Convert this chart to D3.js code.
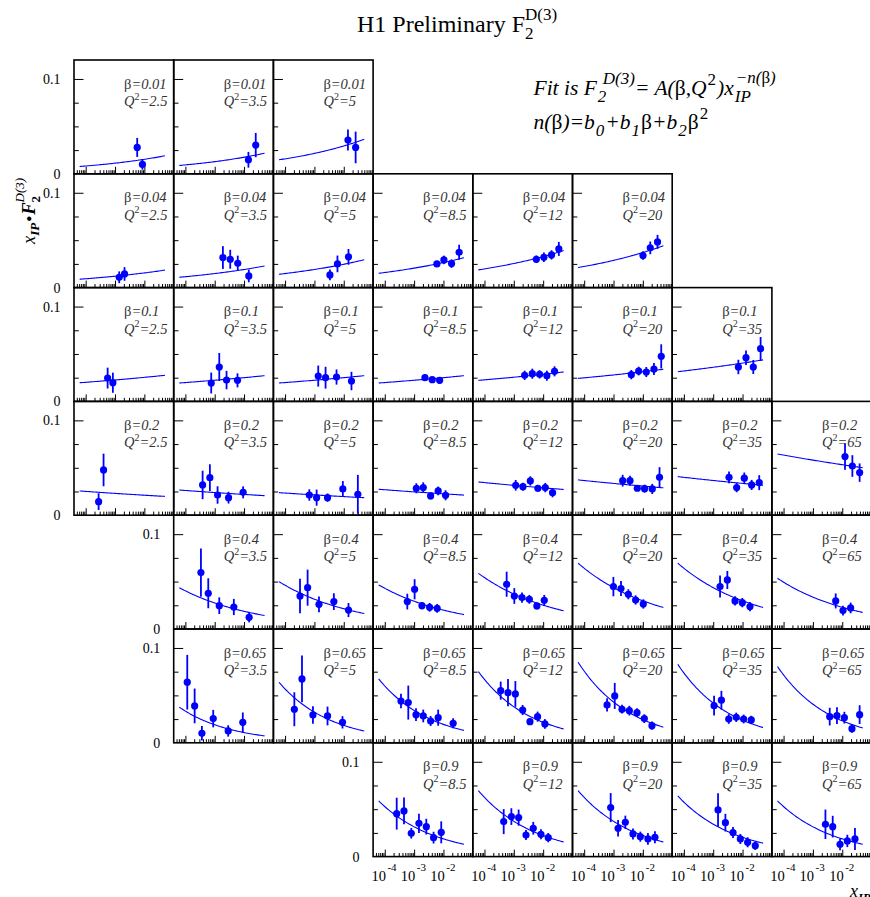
<!DOCTYPE html>
<html><head><meta charset="utf-8">
<script src="https://cdn.jsdelivr.net/npm/d3@7"></script>
<style>
html,body{margin:0;padding:0;background:#fff;}
svg{display:block;}
text{font-family:"Liberation Serif","Times New Roman",Times,serif;}
</style></head><body>
<svg id="c" width="870" height="897"></svg>
<script>
// ---------------- data ----------------
const betas = [0.01, 0.04, 0.1, 0.2, 0.4, 0.65, 0.9];
const q2s = [2.5, 3.5, 5, 8.5, 12, 20, 35, 65];
const q2Labels = ["2.5", "3.5", "5", "8.5", "12", "20", "35", "65"];
const betaLabels = ["0.01", "0.04", "0.1", "0.2", "0.4", "0.65", "0.9"];
// Q2 columns present in each beta row
const panelCols = [
  [0, 1, 2],
  [0, 1, 2, 3, 4, 5],
  [0, 1, 2, 3, 4, 5, 6],
  [0, 1, 2, 3, 4, 5, 6, 7],
  [1, 2, 3, 4, 5, 6, 7],
  [1, 2, 3, 4, 5, 6, 7],
  [3, 4, 5, 6, 7]
];
// fit: x_IP*F2 = A * x_IP^(1-n(beta)); exponent 1-n(beta) per beta row
const fitPower = [0.135, 0.11, 0.05, -0.038, -0.167, -0.245, -0.225];
// fitted x_IP*F2 value at x_IP = 1e-3, per panel (row-major)
const fitAt1e3 = [
  0.0112, 0.0128, 0.0215,
  0.0120, 0.0148, 0.0191, 0.0205, 0.0254, 0.0287,
  0.0226, 0.0223, 0.0223, 0.0223, 0.0255, 0.0279, 0.0360,
  0.0230, 0.0239, 0.0214, 0.0246, 0.0315, 0.0335, 0.0366, 0.0581,
  0.0274, 0.0314, 0.0292, 0.0369, 0.0436, 0.0436, 0.0336,
  0.0190, 0.0323, 0.0341, 0.0380, 0.0430, 0.0419, 0.0407,
  0.0314, 0.0372, 0.0372, 0.0342, 0.0314
];
const fitXRange = [6.2e-5, 0.05];
// data points per panel (row-major): x_IP, x_IP*F2, error
const ptX = [
  [5.7e-3, 8.6e-3], [0.0141, 0.025], [0.0139, 0.0254],
  [1.39e-3, 2.11e-3], [1.9e-3, 3.38e-3, 6.1e-3, 0.0145], [3.38e-3, 6.1e-3, 0.0145],
  [5.98e-3, 0.01035, 0.0189, 0.0342], [5.84e-3, 0.0106, 0.0193, 0.0342], [0.0101, 0.0179, 0.0316],
  [5.6e-4, 8.45e-4], [7.6e-4, 1.43e-3, 2.53e-3, 5.98e-3], [1.35e-3, 2.4e-3, 5.67e-3, 0.0183],
  [2.34e-3, 4.14e-3, 7.4e-3], [2.34e-3, 4.26e-3, 7.57e-3, 0.0134, 0.0244],
  [4.04e-3, 7.2e-3, 0.0131, 0.0239, 0.0423], [7.2e-3, 0.0131, 0.0232, 0.0412],
  [2.76e-4, 4.07e-4], [3.87e-4, 6.84e-4, 1.25e-3, 2.96e-3, 9.3e-3], [6.7e-4, 1.19e-3, 2.8e-3, 9.3e-3, 0.0302],
  [1.19e-3, 2.05e-3, 3.65e-3, 6.6e-3, 0.0118], [1.16e-3, 2.05e-3, 3.65e-3, 6.6e-3, 0.0118, 0.0209],
  [2.05e-3, 3.65e-3, 6.46e-3, 0.01146, 0.0209, 0.037], [3.46e-3, 6.3e-3, 0.01146, 0.0204, 0.037],
  [0.0124, 0.0221, 0.0391],
  [3.39e-4, 6.03e-4, 1.43e-3, 4.48e-3, 0.0149], [3.23e-4, 5.86e-4, 1.43e-3, 4.6e-3, 0.0145],
  [5.86e-4, 1.04e-3, 1.85e-3, 3.38e-3, 6.1e-3], [5.7e-4, 1.04e-3, 1.9e-3, 3.38e-3, 6.1e-3, 0.0109],
  [9.9e-4, 1.8e-3, 3.2e-3, 5.67e-3, 0.01035], [1.71e-3, 3.03e-3, 5.54e-3, 9.8e-3, 0.0179],
  [5.98e-3, 0.0106, 0.0193],
  [1.16e-4, 2.07e-4, 3.66e-4, 8.9e-4, 2.88e-3, 9.06e-3], [2.07e-4, 3.77e-4, 8.9e-4, 2.8e-3, 9.06e-3],
  [3.57e-4, 6.33e-4, 1.16e-3, 2.05e-3, 3.65e-3, 6.6e-3, 0.0214],
  [3.57e-4, 6.33e-4, 1.13e-3, 2e-3, 3.55e-3, 6.46e-3, 0.01146],
  [6.03e-4, 1.1e-3, 1.95e-3, 3.46e-3, 6.3e-3, 0.0112, 0.0204],
  [1.07e-3, 1.9e-3, 3.38e-3, 6.1e-3, 0.0109, 0.0198], [3.74e-3, 6.6e-3, 0.0118, 0.0214, 0.0391],
  [2.55e-4, 4.52e-4, 8e-4, 1.46e-3, 2.6e-3, 4.6e-3, 8.4e-3],
  [4.52e-4, 8.25e-4, 1.46e-3, 2.6e-3, 4.6e-3, 8.4e-3, 0.0149],
  [8e-4, 1.43e-3, 2.53e-3, 4.6e-3, 8.2e-3, 0.0149, 0.0258],
  [1.46e-3, 2.6e-3, 4.73e-3, 8.4e-3, 0.0149, 0.0271], [2.67e-3, 4.73e-3, 8.4e-3, 0.0149, 0.0271]
];
const ptY = [
  [0.0278, 0.0099], [0.0148, 0.0303], [0.0356, 0.0278],
  [0.0109, 0.0144], [0.0317, 0.0299, 0.0257, 0.0123], [0.0134, 0.025, 0.0324],
  [0.025, 0.0292, 0.0253, 0.0373], [0.0299, 0.032, 0.0345, 0.0408], [0.0338, 0.0419, 0.0482],
  [0.0246, 0.0197], [0.0194, 0.0363, 0.0225, 0.0222], [0.0267, 0.025, 0.0257, 0.0215],
  [0.025, 0.0229, 0.0222], [0.0275, 0.0292, 0.0285, 0.0271, 0.0317],
  [0.0282, 0.032, 0.031, 0.0341, 0.0475], [0.0363, 0.0461, 0.0363, 0.0556],
  [0.0143, 0.0477], [0.0319, 0.0396, 0.0213, 0.0185, 0.0241], [0.0213, 0.0185, 0.0185, 0.0277, 0.0221],
  [0.0284, 0.0291, 0.0203, 0.0256, 0.021], [0.0315, 0.0301, 0.0361, 0.0284, 0.0291, 0.0238],
  [0.0364, 0.0364, 0.0284, 0.028, 0.0277, 0.04], [0.04, 0.0291, 0.039, 0.0319, 0.0343],
  [0.0618, 0.0519, 0.0449],
  [0.0595, 0.0377, 0.0246, 0.0232, 0.0123], [0.0348, 0.0436, 0.026, 0.0289, 0.02],
  [0.0289, 0.0419, 0.0246, 0.0229, 0.0218], [0.0472, 0.0348, 0.0331, 0.0313, 0.0243, 0.0303],
  [0.0447, 0.0426, 0.0366, 0.0306, 0.0264], [0.0447, 0.0517, 0.0296, 0.0278, 0.0236],
  [0.0296, 0.0194, 0.0222],
  [0.0639, 0.0389, 0.01, 0.0255, 0.0125, 0.0216], [0.0354, 0.0674, 0.0294, 0.0283, 0.0216],
  [0.0441, 0.0424, 0.0297, 0.0283, 0.023, 0.0265, 0.0206],
  [0.055, 0.0529, 0.0515, 0.0346, 0.0223, 0.0276, 0.0199],
  [0.0399, 0.0494, 0.0354, 0.0339, 0.0318, 0.0255, 0.0181],
  [0.0392, 0.0449, 0.0251, 0.0269, 0.0251, 0.0241], [0.0276, 0.0286, 0.0265, 0.0149, 0.0297],
  [0.0453, 0.0482, 0.0246, 0.0351, 0.0316, 0.02, 0.0256],
  [0.0369, 0.0422, 0.0411, 0.0228, 0.0299, 0.0235, 0.02],
  [0.0517, 0.0299, 0.0362, 0.0239, 0.021, 0.0186, 0.0204],
  [0.0492, 0.0358, 0.0253, 0.0186, 0.0151, 0.0115], [0.0341, 0.0316, 0.013, 0.0165, 0.0186]
];
const ptErr = [
  [0.010, 0.0056], [0.0083, 0.0128], [0.011, 0.0167],
  [0.0062, 0.0072], [0.012, 0.010, 0.008, 0.0067], [0.0056, 0.0088, 0.0083],
  [0.003, 0.0045, 0.0045, 0.0079], [0.004, 0.005, 0.0049, 0.0074], [0.0044, 0.0067, 0.0074],
  [0.011, 0.0106], [0.011, 0.0148, 0.0097, 0.0074], [0.0111, 0.0115, 0.008, 0.0097],
  [0.0035, 0.003, 0.0035], [0.0049, 0.0053, 0.0044, 0.0053, 0.0053],
  [0.0049, 0.0046, 0.0053, 0.0063, 0.0127], [0.0076, 0.0076, 0.0074, 0.0123],
  [0.0088, 0.0172], [0.015, 0.0141, 0.0092, 0.0062, 0.0063], [0.006, 0.0085, 0.0044, 0.0083, 0.0204],
  [0.0053, 0.0056, 0.0035, 0.0046, 0.0053], [0.0056, 0.0042, 0.0049, 0.0035, 0.0049, 0.0049],
  [0.0062, 0.0053, 0.0025, 0.0042, 0.0053, 0.0106], [0.0062, 0.0049, 0.006, 0.0053, 0.0079],
  [0.014, 0.0114, 0.0097],
  [0.0255, 0.0158, 0.0088, 0.0085, 0.0053], [0.0183, 0.019, 0.0083, 0.0088, 0.0074],
  [0.0083, 0.0106, 0.0039, 0.0046, 0.0046], [0.0132, 0.0083, 0.0053, 0.0046, 0.0035, 0.0056],
  [0.0102, 0.0079, 0.0053, 0.0049, 0.0049], [0.0116, 0.0095, 0.0049, 0.0049, 0.0049],
  [0.0079, 0.0051, 0.0056],
  [0.0288, 0.0183, 0.0077, 0.0092, 0.006, 0.0104], [0.0179, 0.0246, 0.0092, 0.0099, 0.0065],
  [0.0077, 0.0179, 0.0067, 0.0067, 0.0053, 0.0085, 0.0053],
  [0.0095, 0.0144, 0.0136, 0.0053, 0.0035, 0.0053, 0.0051],
  [0.007, 0.0137, 0.0046, 0.0051, 0.0046, 0.0046, 0.0044],
  [0.0104, 0.0099, 0.0051, 0.0049, 0.0046, 0.0044], [0.0093, 0.0088, 0.0062, 0.0042, 0.0099],
  [0.0168, 0.0141, 0.0056, 0.0102, 0.0083, 0.0062, 0.0116],
  [0.0132, 0.0088, 0.0085, 0.0053, 0.0067, 0.0053, 0.0049],
  [0.0153, 0.0088, 0.007, 0.0058, 0.0053, 0.0062, 0.0062],
  [0.0176, 0.0093, 0.0058, 0.0053, 0.0053, 0.0044], [0.0155, 0.0114, 0.0062, 0.0065, 0.0116]
];
const xDomain = [4e-5, 0.1];
const yDomain = [0, 0.12];
const xMajorTicks = [1e-4, 1e-3, 1e-2];
const xTickExp = ["-4", "-3", "-2"];
const yMajorTicks = [0.1];
const yMinorTicks = [0.025, 0.05, 0.075];

// ---------------- layout ----------------
const X0 = 74, CW = 99.7, Y0 = 60, RH = 113.8;
const BLUE = "#0000ff";
const svg = d3.select("#c");

function addText(g, x, y, seg, fill) {
  const el = g.append("text").attr("x", x).attr("y", y).attr("font-size", seg.s).attr("fill", fill || "#000");
  const parts = typeof seg.t === "string" ? [[seg.t, seg.it, seg.b]] : seg.t;
  parts.forEach(p => el.append("tspan")
    .attr("font-style", p[1] ? "italic" : "normal")
    .attr("font-weight", p[2] ? "bold" : "normal").text(p[0]));
  return el;
}
function rich(g, x, y, segs, fill) {
  let cur = x, lastStart = x, lastEnd = x;
  segs.forEach(s => {
    const sx = (s.stack ? lastStart : cur) + (s.dx || 0);
    const el = addText(g, sx, y + (s.sh || 0), s, fill);
    const w = el.node().getComputedTextLength();
    const end = sx + w;
    if (s.stack) { cur = Math.max(lastEnd, end); lastEnd = cur; }
    else { lastStart = sx; lastEnd = end; cur = end; }
  });
  return cur;
}

const panelsG = svg.append("g");
let k = 0;
panelCols.forEach((cols, r) => {
  cols.forEach((c, ci) => {
    const idx = k++;
    const left = X0 + c * CW, top = Y0 + r * RH, bottom = top + RH;
    const x = d3.scaleLog().domain(xDomain).range([left, left + CW]);
    const y = d3.scaleLinear().domain(yDomain).range([bottom, top]);
    const g = panelsG.append("g");

    // axes ticks (inward)
    const minorX = x.ticks().filter(v => !xMajorTicks.some(m => Math.abs(m - v) / m < 1e-6) && v > xDomain[0] * 1.0001 && v < xDomain[1] * 0.9999);
    const axB1 = g.append("g").attr("transform", `translate(0,${bottom})`)
      .call(d3.axisBottom(x).tickValues(xMajorTicks).tickSizeInner(-7).tickSizeOuter(0).tickFormat(""));
    const axB2 = g.append("g").attr("transform", `translate(0,${bottom})`)
      .call(d3.axisBottom(x).tickValues(minorX).tickSizeInner(-3.6).tickSizeOuter(0).tickFormat(""));
    const axL1 = g.append("g").attr("transform", `translate(${left},0)`)
      .call(d3.axisLeft(y).tickValues(yMajorTicks).tickSizeInner(-9.5).tickSizeOuter(0).tickFormat(""));
    const axL2 = g.append("g").attr("transform", `translate(${left},0)`)
      .call(d3.axisLeft(y).tickValues(yMinorTicks).tickSizeInner(-4.8).tickSizeOuter(0).tickFormat(""));
    [axB1, axB2, axL1, axL2].forEach(a => {
      a.select(".domain").remove();
      a.selectAll(".tick line").attr("stroke", "#000").attr("stroke-width", 1);
    });

    // y labels on the first panel of each row
    if (ci === 0) {
      const ay = g.append("g").attr("transform", `translate(${left},0)`)
        .call(d3.axisLeft(y).tickValues([0, 0.1]).tickSize(0).tickPadding(13.5)
          .tickFormat(d => d === 0 ? "0" : "0.1"));
      ay.select(".domain").remove();
      ay.attr("font-family", null).attr("font-size", null);
      ay.selectAll("text").attr("font-size", 14).attr("fill", "#000")
        .style("font-family", '"Liberation Serif","Times New Roman",serif');
    }

    // x labels on bottom row
    if (r === panelCols.length - 1) {
      xMajorTicks.forEach((v, i) => {
        const lg = g.append("g");
        rich(lg, 0, 0, [
          { t: "10", s: 14.5 },
          { t: xTickExp[i], s: 11, sh: -10, dx: 1.5 }
        ]);
        const bb = lg.node().getBBox();
        lg.attr("transform", `translate(${x(v) - bb.width / 2 - 0.5},${bottom + 24.5})`);
      });
    }

    // fit curve
    const p = fitPower[r], A = fitAt1e3[idx];
    const lx0 = Math.log10(fitXRange[0]), lx1 = Math.log10(fitXRange[1]);
    const samples = d3.range(0, 61).map(i => Math.pow(10, lx0 + (lx1 - lx0) * i / 60));
    const line = d3.line().x(d => x(d)).y(d => y(A * Math.pow(d / 1e-3, p)));
    g.append("path").attr("d", line(samples)).attr("fill", "none")
      .attr("stroke", BLUE).attr("stroke-width", 1.1);

    // data points
    const pts = ptX[idx].map((xv, i) => ({ x: xv, y: ptY[idx][i], e: ptErr[idx][i] }));
    g.selectAll("line.err").data(pts).enter().append("line")
      .attr("x1", d => x(d.x)).attr("x2", d => x(d.x))
      .attr("y1", d => y(Math.max(0, d.y - d.e))).attr("y2", d => y(d.y + d.e))
      .attr("stroke", BLUE).attr("stroke-width", 1.8);
    g.selectAll("circle").data(pts).enter().append("circle")
      .attr("cx", d => x(d.x)).attr("cy", d => y(d.y)).attr("r", 3.6).attr("fill", BLUE);

    // labels
    rich(g, left + 50, top + 28.5, [
      { t: "β", s: 14.5 }, { t: "=" + betaLabels[r], s: 14.5, it: true }
    ], "#333");
    rich(g, left + 50, top + 46, [
      { t: "Q", s: 14.5, it: true }, { t: "2", s: 10, sh: -6.5 }, { t: "=" + q2Labels[c], s: 14.5, it: true }
    ], "#333");

    // frame
    g.append("rect").attr("x", left).attr("y", top).attr("width", CW).attr("height", RH)
      .attr("fill", "none").attr("stroke", "#000").attr("stroke-width", 1.6);
  });
});

// title
rich(svg, 357, 32, [
  { t: "H1 Preliminary F", s: 24 },
  { t: "2", s: 17, sh: 7 },
  { t: "D(3)", s: 17, sh: -12, stack: true }
]);

// fit formula
rich(svg, 533.5, 95, [
  { t: "Fit is F", s: 21.5, it: true },
  { t: "2", s: 17, it: true, sh: 7, dx: 1 },
  { t: "D(3)", s: 17, it: true, sh: -11, stack: true, dx: 5 },
  { t: "= A(", s: 21.5, it: true },
  { t: "β", s: 21.5 },
  { t: ",Q", s: 21.5, it: true },
  { t: "2", s: 17, sh: -10, dx: 1 },
  { t: ")x", s: 21.5, it: true, dx: 1 },
  { t: "IP", s: 17, it: true, sh: 7, dx: 1 },
  { t: [["−n(", true], ["β", false], [")", true]], s: 17, sh: -12, stack: true, dx: 1 }
]);
rich(svg, 533.5, 129, [
  { t: "n(", s: 21.5, it: true },
  { t: "β", s: 21.5 },
  { t: ")=b", s: 21.5, it: true },
  { t: "0", s: 17, it: true, sh: 7, dx: 1 },
  { t: "+b", s: 21.5, it: true, dx: 1 },
  { t: "1", s: 17, it: true, sh: 7, dx: 1 },
  { t: "β", s: 21.5, dx: 1 },
  { t: "+b", s: 21.5, it: true },
  { t: "2", s: 17, it: true, sh: 7, dx: 1 },
  { t: "β", s: 21.5, dx: 1 },
  { t: "2", s: 17, sh: -10, dx: 1 }
]);

// y axis title (rotated)
const yt = svg.append("g").attr("transform", "translate(35,244) rotate(-90)");
rich(yt, 0, 0, [
  { t: "x", s: 18.5, it: true },
  { t: "IP", s: 13, it: true, b: true, sh: 4 },
  { t: "●", s: 10, dx: 1, sh: -3 },
  { t: "F", s: 18.5, it: true, b: true, dx: 1 },
  { t: "2", s: 13, b: true, sh: 5 },
  { t: "D(3)", s: 13, it: true, sh: -11, stack: true }
]);

// x axis title
rich(svg, 850, 896.5, [
  { t: "x", s: 18, it: true },
  { t: "IP", s: 12.5, it: true, b: true, sh: 5 }
]);
</script>
</body></html>
